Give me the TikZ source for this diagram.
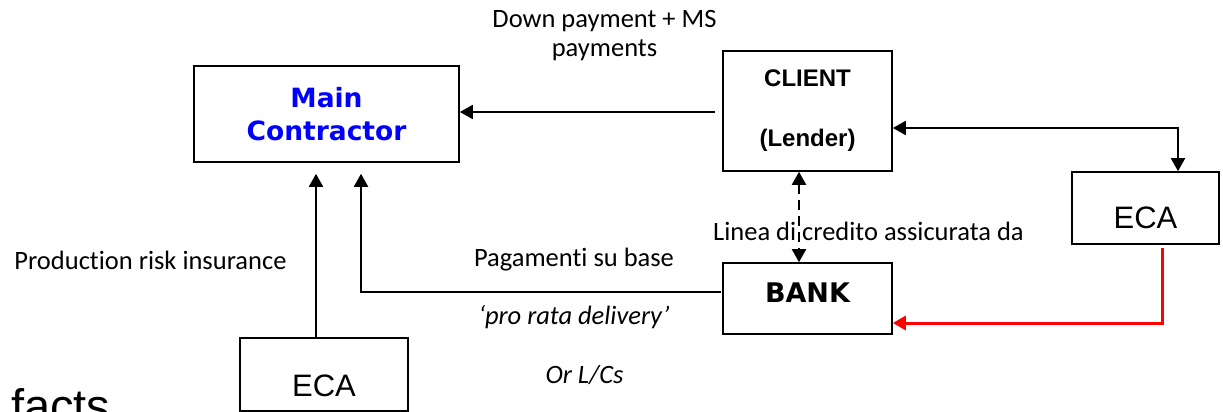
\documentclass[tikz,border=0pt]{standalone}
\usepackage{fontspec}
\setmainfont{Carlito}[Ligatures=NoCommon]
\newfontfamily\arialfont{Liberation Sans}
\newfontfamily\boldsans{DejaVu Sans}
\usetikzlibrary{arrows.meta}
\definecolor{mcblue}{RGB}{0,0,255}
\definecolor{linkred}{RGB}{255,0,0}
\tikzset{
  box/.style={draw, line width=1.6pt, inner sep=0pt, align=center},
  link/.style={line width=2pt, -{Triangle[length=13pt,width=14pt]}},
  twoway/.style={line width=2pt, {Triangle[length=13pt,width=14pt]}-{Triangle[length=13pt,width=14pt]}},
  note/.style={font=\fontsize{26.5}{29}\selectfont, inner sep=0pt, align=center},
  inote/.style={note, font=\itshape\fontsize{26.5}{29}\selectfont},
}
\begin{document}
\begin{tikzpicture}[x=1pt,y=-1pt]
\useasboundingbox (0,0) rectangle (1223,412);

% parties
\node[box, minimum width=265pt, minimum height=96pt, text=mcblue,
      font=\boldsans\bfseries\fontsize{26.5}{33}\selectfont] (main) at (326.5,114) {Main\\Contractor};
\node[box, minimum width=169pt, minimum height=120pt,
      font=\arialfont\bfseries\fontsize{24}{60}\selectfont] (client) at (807.5,111) {CLIENT\\(Lender)};
\node[box, minimum width=169pt, minimum height=71pt, text height=20pt, text depth=13pt,
      font=\boldsans\bfseries\fontsize{27}{30}\selectfont] (bank) at (807.5,298.5) {BANK};
\node[box, minimum width=147pt, minimum height=72pt, text height=40pt, text depth=0pt,
      font=\arialfont\fontsize{31}{36}\selectfont] (ecaR) at (1145.5,208) {ECA};
\node[box, minimum width=168pt, minimum height=73pt, text height=43pt, text depth=0pt,
      font=\arialfont\fontsize{31}{36}\selectfont] (ecaB) at (324,374.5) {ECA};

% routing points
\coordinate (payStart) at (715,112);
\coordinate (ecaCorner) at (1178,128);
\coordinate (creditX) at (799,0);
\coordinate (insX) at (316,0);
\coordinate (bankCorner) at (361,292);
\coordinate (bankStart) at (721,292);
\coordinate (redTop) at (1162,248);
\coordinate (redCorner) at (1162,323);

% flows
\draw[link] (payStart) -- (main.east |- payStart);
\draw[twoway] (client.east |- ecaCorner) -- (ecaCorner) -- (ecaCorner |- ecaR.north);
\draw[twoway, dash pattern=on 10pt off 6pt] (client.south -| creditX) -- (bank.north -| creditX);
\draw[link, shorten >=11pt] (ecaB.north -| insX) -- (main.south -| insX);
\draw[link, shorten >=11pt] (bankStart) -- (bankCorner) -- (main.south -| bankCorner);
\draw[link, draw=linkred, line width=3pt] (redTop) -- (redCorner) -- (bank.east |- redCorner);

% labels
\node[note] (lblDown) at (604.5,35.5) {Down payment + MS\\payments};
\node[note] (lblProd) at (150.5,260) {Production risk insurance};
\node[note] (lblPag) at (574,260) {Pagamenti su base};
\node[inote] (lblPro) at (574,317) {‘pro rata delivery’};
\node[inote] (lblLc) at (584.5,375) {Or L/Cs};
\node[note, anchor=west] (lblLinea) at (713,231) {Linea di credito assicurata da};
\node[inner sep=0pt, anchor=base west, font=\arialfont\fontsize{47}{50}\selectfont] (facts) at (11,422) {facts};
\end{tikzpicture}
\end{document}
